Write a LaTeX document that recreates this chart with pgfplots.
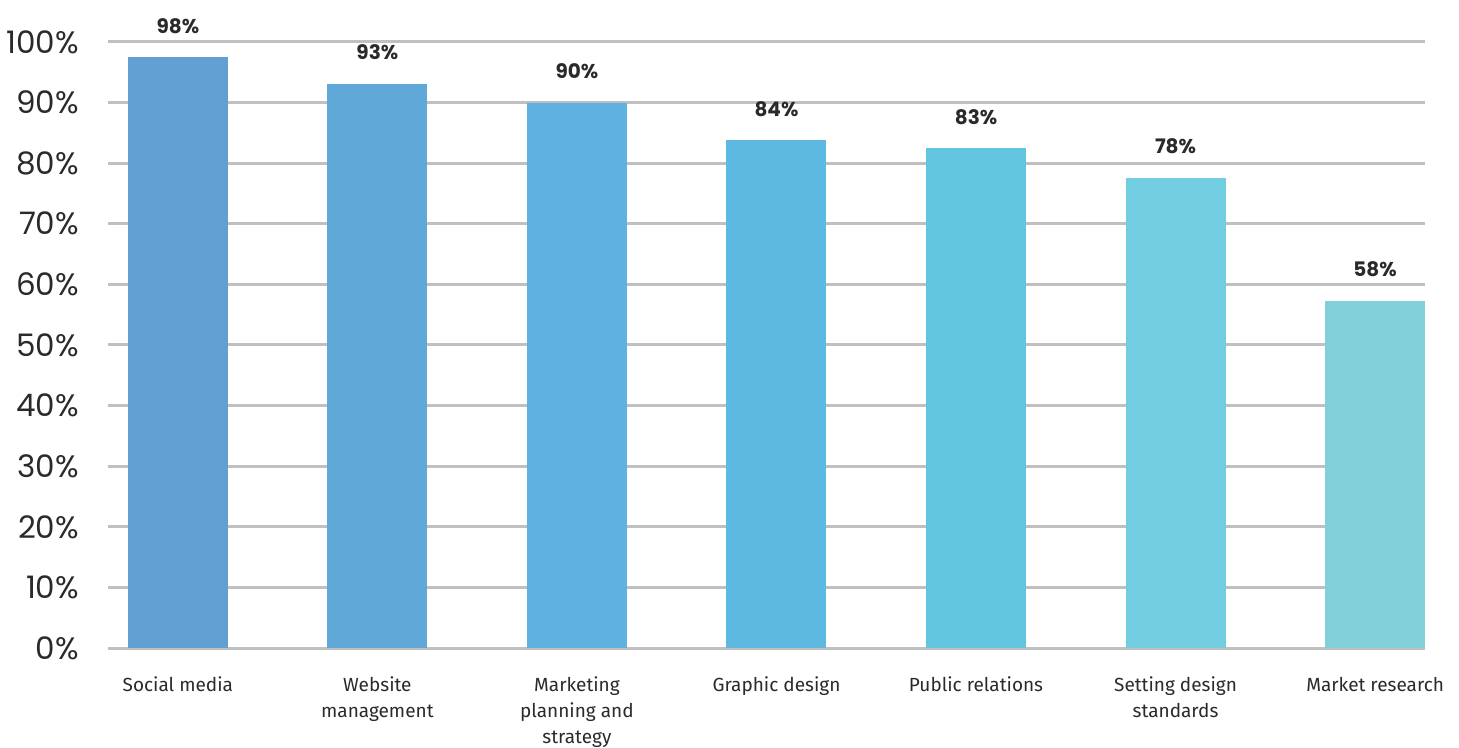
\documentclass[border=0pt]{standalone}
\usepackage{pgfplots}
\pgfplotsset{compat=1.18}
\usepackage{fontspec}
\setmainfont{Fira Sans}
\newfontfamily\pop{Poppins}
\definecolor{c1}{HTML}{629FD2}
\definecolor{c2}{HTML}{60A8D8}
\definecolor{c3}{HTML}{5FB2DF}
\definecolor{c4}{HTML}{5EB9E0}
\definecolor{c5}{HTML}{62C5E0}
\definecolor{c6}{HTML}{72CDE0}
\definecolor{c7}{HTML}{81CFD8}
\definecolor{gridc}{HTML}{C0C0C0}
\definecolor{txt}{HTML}{2A2A2A}
\begin{document}
\begin{tikzpicture}
\path[use as bounding box] (-54bp,-50bp) rectangle (675.5bp,324bp);
\begin{axis}[
  scale only axis,
  width=658.5bp, height=303bp,
  ymin=0, ymax=100,
  xmin=-0.35, xmax=6.25,
  ybar, bar width=50bp, bar shift=0pt,
  axis line style={draw=none},
  major tick length=0pt,
  ymajorgrids,
  grid style={line width=1.5bp, gridc},
  ytick={0,10,...,100},
  yticklabels={0\%,10\%,20\%,30\%,40\%,50\%,60\%,70\%,80\%,90\%,100\%},
  yticklabel style={font=\pop\fontsize{15.5bp}{17bp}\selectfont, text=txt, xshift=-11bp},
  xtick={0,...,6},
  xticklabels={Social media,{Website\\management},{Marketing\\planning and\\strategy},Graphic design,Public relations,{Setting design\\standards},Market research},
  xticklabel style={font=\fontsize{9.5bp}{13bp}\selectfont, text=txt, align=center, yshift=-11bp},
  point meta=explicit symbolic,
  nodes near coords,
  every node near coord/.append style={font=\pop\bfseries\fontsize{10bp}{12bp}\selectfont, text=txt, anchor=base, yshift=12bp},
]
\addplot[fill=c1, draw=none] coordinates {(0,97.5) [98\%]};
\addplot[fill=c2, draw=none] coordinates {(1,93.1) [93\%]};
\addplot[fill=c3, draw=none] coordinates {(2,90) [90\%]};
\addplot[fill=c4, draw=none] coordinates {(3,83.8) [84\%]};
\addplot[fill=c5, draw=none] coordinates {(4,82.5) [83\%]};
\addplot[fill=c6, draw=none] coordinates {(5,77.6) [78\%]};
\addplot[fill=c7, draw=none] coordinates {(6,57.3) [58\%]};
\end{axis}
\end{tikzpicture}
\end{document}
